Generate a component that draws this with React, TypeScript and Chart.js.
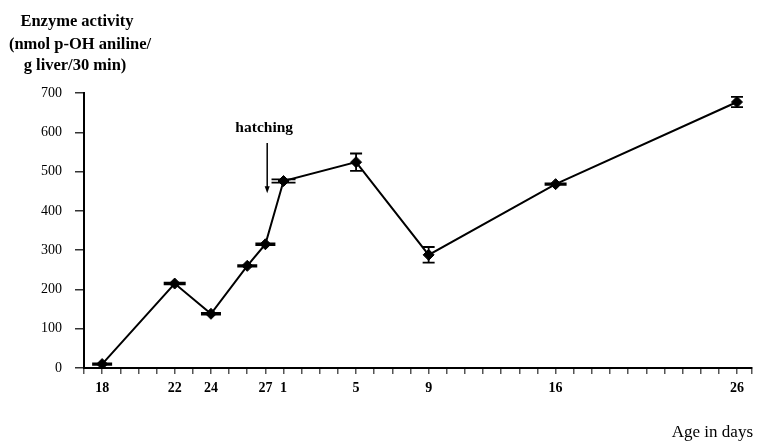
import React, { useEffect, useRef } from "react";
import { Chart, registerables } from "chart.js";

Chart.register(...registerables);

// Continuous age axis: embryonic days 18..27, then post-hatch days (1 = day 28)
const ageAxisDays = [18, 22, 24, 26, 27, 28, 32, 36, 43, 53];
const activity = [10, 215, 138, 260, 315, 476, 524, 288, 468, 677];
const errorSd = [2, 2, 2, 2, 2, 4, 22, 20, 2, 13];
const capHalfWidth = [10, 11, 10, 10, 10, 12, 6, 6, 11, 6];

const tickDays = [18, 22, 24, 27, 28, 32, 36, 43, 53];
const tickLabels = ["18", "22", "24", "27", "1", "5", "9", "16", "26"];

const yTitleLines = ["Enzyme activity", "(nmol p-OH aniline/", "g liver/30 min)"];
const xTitle = "Age in days";
const hatchLabel = "hatching";
const hatchDay = 27.1;
const hatchArrowTop = 573;
const hatchArrowTip = 445;
const hatchTextY = 610;

const X_MIN = 17;
const X_MAX = 53.8;

const SERIF = "'Liberation Serif', 'DejaVu Serif', serif";

export default function App() {
  const ref = useRef<HTMLCanvasElement | null>(null);

  useEffect(() => {
    if (!ref.current) return;
    const errorPlugin = {
      id: "errorBars",
      afterDatasetsDraw(chart: any) {
        const { ctx, scales } = chart;
        const xs = scales.x;
        const ys = scales.y;
        ctx.save();
        ctx.strokeStyle = "#000";
        ctx.lineWidth = 1.8;
        ageAxisDays.forEach((d, i) => {
          const px = xs.getPixelForValue(d);
          const top = ys.getPixelForValue(activity[i] + errorSd[i]);
          const bot = ys.getPixelForValue(activity[i] - errorSd[i]);
          const hw = capHalfWidth[i];
          ctx.beginPath();
          ctx.moveTo(px, top);
          ctx.lineTo(px, bot);
          ctx.moveTo(px - hw, top);
          ctx.lineTo(px + hw, top);
          ctx.moveTo(px - hw, bot);
          ctx.lineTo(px + hw, bot);
          ctx.stroke();
        });
        ctx.restore();
      },
      afterDraw(chart: any) {
        const { ctx, scales } = chart;
        const xs = scales.x;
        const ys = scales.y;
        ctx.save();
        ctx.fillStyle = "#000";
        ctx.strokeStyle = "#000";
        // y title
        ctx.font = `bold 16.5px ${SERIF}`;
        ctx.textAlign = "center";
        ctx.textBaseline = "alphabetic";
        const titleX = [77, 80, 75];
        const titleY = [26, 49, 70];
        yTitleLines.forEach((t, i) => ctx.fillText(t, titleX[i], titleY[i]));
        // x title
        ctx.font = `17px ${SERIF}`;
        ctx.textAlign = "right";
        ctx.fillText(xTitle, 753, 437);
        // hatching annotation
        const hx = xs.getPixelForValue(hatchDay);
        ctx.font = `bold 15.5px ${SERIF}`;
        ctx.textAlign = "center";
        ctx.textBaseline = "middle";
        ctx.fillText(hatchLabel, hx - 3, ys.getPixelForValue(hatchTextY));
        const aTop = ys.getPixelForValue(hatchArrowTop);
        const aTip = ys.getPixelForValue(hatchArrowTip);
        ctx.lineWidth = 1.5;
        ctx.beginPath();
        ctx.moveTo(hx, aTop);
        ctx.lineTo(hx, aTip - 5);
        ctx.stroke();
        ctx.beginPath();
        ctx.moveTo(hx, aTip);
        ctx.lineTo(hx - 2.5, aTip - 7);
        ctx.lineTo(hx + 2.5, aTip - 7);
        ctx.closePath();
        ctx.fill();
        ctx.restore();
      },
    };

    const chart = new Chart(ref.current, {
      type: "line",
      data: {
        datasets: [
          {
            data: ageAxisDays.map((d, i) => ({ x: d, y: activity[i] })),
            borderColor: "#000",
            borderWidth: 2,
            backgroundColor: "#000",
            pointStyle: "rectRot",
            pointRadius: 5.5,
            pointBorderWidth: 1,
            tension: 0,
          },
        ],
      },
      options: {
        animation: false,
        responsive: false,
        maintainAspectRatio: false,
        layout: { padding: { left: 0, top: 93, right: 5, bottom: 0 } },
        plugins: { legend: { display: false }, tooltip: { enabled: false } },
        scales: {
          x: {
            type: "linear",
            min: X_MIN,
            max: X_MAX,
            afterFit(scale: any) {
              scale.height = 78;
            },
            afterBuildTicks(scale: any) {
              const t = [];
              for (let d = X_MIN; d <= X_MAX; d++) t.push({ value: d });
              t.push({ value: X_MAX });
              scale.ticks = t;
            },
            ticks: {
              autoSkip: false,
              maxRotation: 0,
              color: "#000",
              padding: 6,
              font: { family: SERIF, size: 14, weight: "bold" },
              callback(value: any) {
                const idx = tickDays.indexOf(Number(value));
                return idx >= 0 ? tickLabels[idx] : "";
              },
            },
            grid: {
              drawOnChartArea: false,
              drawTicks: true,
              tickLength: 6,
              color: "#555",
              lineWidth: 1.5,
            },
            border: { display: true, color: "#000", width: 2 },
          },
          y: {
            min: 0,
            max: 700,
            afterFit(scale: any) {
              scale.width = 84;
            },
            ticks: {
              stepSize: 100,
              color: "#000",
              padding: 13,
              font: { family: SERIF, size: 14 },
            },
            grid: {
              drawOnChartArea: false,
              drawTicks: true,
              tickLength: 9,
              color: "#333",
              lineWidth: 1.5,
            },
            border: { display: true, color: "#000", width: 2 },
          },
        },
      },
      plugins: [errorPlugin],
    } as any);
    return () => chart.destroy();
  }, []);

  return (
    <div style={{ position: "absolute", left: 0, top: 0, width: 758, height: 446, background: "#fff" }}>
      <canvas ref={ref} width={758} height={446} style={{ width: 758, height: 446 }} />
    </div>
  );
}
